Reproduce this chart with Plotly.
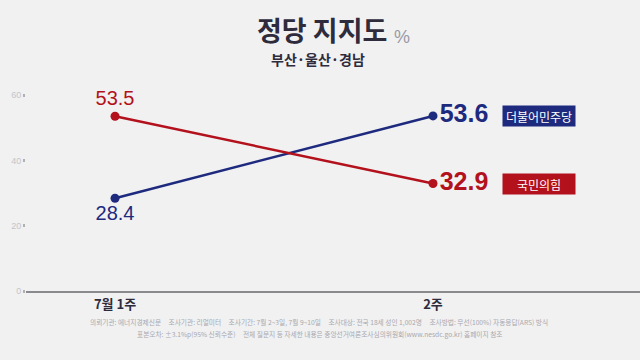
import plotly.graph_objects as go

categories = ["7월 1주", "2주"]
dem_values = [28.4, 53.6]
ppp_values = [53.5, 32.9]
series_names = ["더불어민주당", "국민의힘"]
y_ticks = [0, 20, 40, 60]

NAVY = "#1d2a7e"
RED = "#b3111c"
FONT = "Noto Sans CJK KR"

xs = list(range(len(categories)))


def labels(vals):
    out = []
    for i, v in enumerate(vals):
        s = f"{v:.1f}"
        out.append(f"<b>{s}</b>" if i == len(vals) - 1 else s)
    return out


fig = go.Figure()
fig.add_trace(go.Scatter(
    x=xs, y=dem_values, mode="lines+markers+text",
    line=dict(color=NAVY, width=2.5), marker=dict(color=NAVY, size=9),
    text=labels(dem_values),
    textposition=["bottom center", "middle right"],
    textfont=dict(color=NAVY, size=[20, 25], family="Liberation Sans"),
    cliponaxis=False, showlegend=False))
fig.add_trace(go.Scatter(
    x=xs, y=ppp_values, mode="lines+markers+text",
    line=dict(color=RED, width=2.5), marker=dict(color=RED, size=9),
    text=labels(ppp_values),
    textposition=["top center", "middle right"],
    textfont=dict(color=RED, size=[20, 25], family="Liberation Sans"),
    cliponaxis=False, showlegend=False))

for name, vals, col in [(series_names[0], dem_values, NAVY), (series_names[1], ppp_values, RED)]:
    fig.add_annotation(x=1.217, y=vals[-1], xref="x", yref="y", xanchor="left",
                       text=name, showarrow=False, bgcolor=col, width=70, height=18,
                       font=dict(color="white", size=12, family=FONT))

# Title
fig.add_annotation(xref="paper", yref="paper", x=(322 - 26) / 614, y=1, yanchor="middle",
                   yshift=51, text="<b>정당 지지도</b>", showarrow=False, borderpad=0,
                   font=dict(size=27, color="#2e2b3c", family=FONT))
fig.add_annotation(xref="paper", yref="paper", x=(393 - 26) / 614, xanchor="left", y=1,
                   yanchor="middle", yshift=43, text="%", showarrow=False, borderpad=0,
                   font=dict(size=18, color="#9a9aa4", family="Liberation Sans"))
fig.add_annotation(xref="paper", yref="paper", x=(318 - 26) / 614, y=1, yanchor="middle",
                   yshift=21, text="<b>부산·울산·경남</b>", showarrow=False, borderpad=0,
                   font=dict(size=14, color="#2e2b3c", family=FONT))

foot1 = ("의뢰기관: 에너지경제신문     조사기관: 리얼미터     조사기간: 7월 2~3일, 7월 9~10일     "
         "조사대상: 전국 18세 성인 1,002명     조사방법: 무선(100%) 자동응답(ARS) 방식")
foot2 = ("표본오차: ±3.1%p(95% 신뢰수준)     전체 질문지 등 자세한 내용은 "
         "중앙선거여론조사심의위원회(www.nesdc.go.kr) 홈페이지 참조")
fig.add_annotation(xref="paper", yref="paper", x=(319 - 26) / 614, y=0, yanchor="middle",
                   yshift=-31, text=foot1, showarrow=False,
                   font=dict(size=6.7, color="#a8a8ae", family=FONT))
fig.add_annotation(xref="paper", yref="paper", x=(319 - 26) / 614, y=0, yanchor="middle",
                   yshift=-43, text=foot2, showarrow=False,
                   font=dict(size=6.7, color="#a8a8ae", family=FONT))

fig.update_layout(
    width=640, height=360,
    margin=dict(l=26, r=0, t=80, b=69),
    paper_bgcolor="#f1f1f2", plot_bgcolor="rgba(0,0,0,0)",
    xaxis=dict(range=[-0.28, 1.651], tickvals=xs, ticktext=[f"<b>{c}</b>" for c in categories],
               showgrid=False, zeroline=False, showline=True, linecolor="#8a8a8e", linewidth=2,
               ticks="", tickfont=dict(size=13, color="#2e2b3c", family=FONT), fixedrange=True),
    yaxis=dict(range=[0, 64.6], tickvals=y_ticks, showgrid=False, zeroline=False,
               showline=False, ticks="outside", ticklen=2, tickwidth=3, tickcolor="#b0b0b4",
               tickfont=dict(size=9, color="#c4c4c8", family="Liberation Sans"), fixedrange=True),
)

fig.write_html("out.html")
